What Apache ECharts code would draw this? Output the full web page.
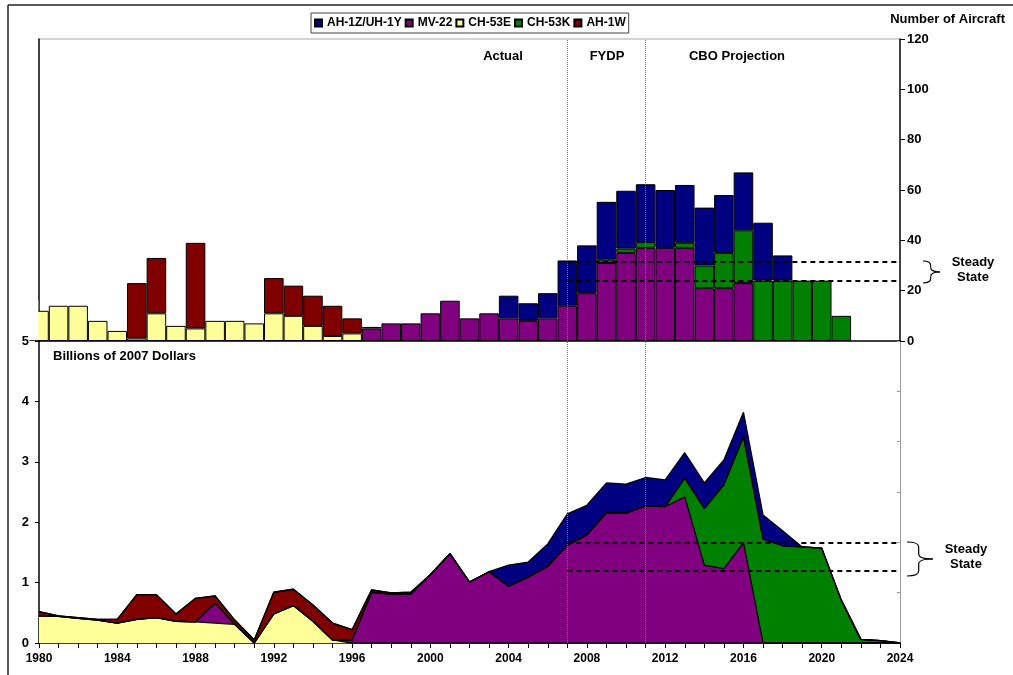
<!DOCTYPE html>
<html>
<head>
<meta charset="utf-8">
<script src="https://cdn.jsdelivr.net/npm/echarts@6/dist/echarts.min.js"></script>
<style>
  html, body { margin: 0; padding: 0; background: #fff; }
  #chart { width: 1013px; height: 675px; }
</style>
</head>
<body>
<div id="chart"></div>
<script>
// years on the shared x axis
var years = ['1980','1981','1982','1983','1984','1985','1986','1987','1988','1989',
  '1990','1991','1992','1993','1994','1995','1996','1997','1998','1999',
  '2000','2001','2002','2003','2004','2005','2006','2007','2008','2009',
  '2010','2011','2012','2013','2014','2015','2016','2017','2018','2019',
  '2020','2021','2022','2023','2024'];

// number of aircraft bought per year (top panel)
var ch53eBars = [12,14,14,8,4,1,11,6,5,8, 8,7,11,10,6,2,3,0,0,0, 0,0,0,0,0,0,0,0,0,0, 0,0,0,0,0,0,0,0,0,0, 0,0,0,0,0];
var mv22Bars  = [0,0,0,0,0,0,0,0,0,0, 0,0,0,0,0,0,0,5,7,7, 11,16,9,11,9,8,9,14,19,31, 35,37,37,37,21,21,23,0,0,0, 0,0,0,0,0];
var ch53kBars = [0,0,0,0,0,0,0,0,0,0, 0,0,0,0,0,0,0,0,0,0, 0,0,0,0,0,0,0,0,0,1.3, 1.7,2.3,0,2,9,14,21,24,24,24, 24,10,0,0,0];
var ah1wBars  = [0,0,0,0,0,22,22,0,34,0, 0,0,14,12,12,12,6,0.6,0,0, 0,0,0,0,0,0,0,0,0,0, 0,0,0,0,0,0,0,0,0,0, 0,0,0,0,0];
var ah1zBars  = [0,0,0,0,0,0,0,0,0,0, 0,0,0,0,0,0,0,0,0,0, 0,0,0,0,9,7,10,18,19,23, 23,23,23,23,23,23,23,23,10,0, 0,0,0,0,0];

// procurement cost, billions of 2007 dollars (bottom panel)
var ch53eCost = [0.45,0.44,0.41,0.38,0.33,0.39,0.42,0.36,0.35,0.33, 0.31,0,0.48,0.62,0.36,0.05,0,0,0,0, 0,0,0,0,0,0,0,0,0,0, 0,0,0,0,0,0,0,0,0,0, 0,0,0,0,0];
var mv22Cost  = [0,0,0,0,0,0,0,0,0,0.33, 0,0,0,0,0,0,0.05,0.84,0.81,0.81, 1.13,1.48,1.01,1.18,0.94,1.09,1.27,1.62,1.79,2.16, 2.15,2.27,2.26,2.42,1.29,1.23,1.66,0,0,0, 0,0,0,0,0];
var ch53kCost = [0,0,0,0,0,0,0,0,0,0, 0,0,0,0,0,0,0,0,0,0, 0,0,0,0,0,0,0,0,0,0, 0,0,0,0.31,0.94,1.39,1.76,1.72,1.61,1.59, 1.57,0.71,0.06,0.04,0];
var ah1wCost  = [0.07,0.01,0.01,0.01,0.06,0.41,0.38,0.12,0.39,0.12, 0.07,0.05,0.36,0.27,0.27,0.28,0.17,0.04,0.02,0.03, 0,0,0,0,0,0,0,0,0,0, 0,0,0,0,0,0,0,0,0,0, 0,0,0,0,0];
var ah1zCost  = [0,0,0,0,0,0,0,0,0,0, 0,0,0,0,0,0,0,0,0,0, 0,0,0,0,0.35,0.25,0.37,0.52,0.49,0.49, 0.48,0.47,0.44,0.42,0.42,0.41,0.40,0.40,0.25,0, 0,0,0,0,0];

// steady state bands and period markers
var steadyAircraft = [23.8, 31.4];
var steadyCost = [1.2, 1.66];
var periodStarts = ['2007', '2011'];

var names = ['AH-1Z/UH-1Y', 'MV-22', 'CH-53E', 'CH-53K', 'AH-1W'];
var colors = {
  'AH-1Z/UH-1Y': '#000080',
  'MV-22': '#800080',
  'CH-53E': '#ffff99',
  'CH-53K': '#008000',
  'AH-1W': '#800000'
};

var font = "'Liberation Sans', Arial, sans-serif";
var myChart = echarts.init(document.getElementById('chart'));

function nz(arr) {
  return arr.map(function (v) { return v === 0 ? '-' : v; });
}

function periodLines() {
  return {
    silent: true,
    symbol: 'none',
    label: { show: false },
    lineStyle: { color: '#777', type: 'dotted', width: 1 },
    data: periodStarts.map(function (y) { return { xAxis: y }; })
  };
}

function steadyLines(vals) {
  return {
    silent: true, symbol: 'none', label: { show: false }, z: 10,
    lineStyle: { color: '#000', type: [5, 4], width: 2 },
    data: vals.map(function (v) {
      return [{ coord: ['2007', v] }, { coord: ['2024', v] }];
    })
  };
}

// stacking order, bottom to top
var order = [
  ['CH-53E', ch53eBars, ch53eCost],
  ['MV-22', mv22Bars, mv22Cost],
  ['CH-53K', ch53kBars, ch53kCost],
  ['AH-1W', ah1wBars, ah1wCost],
  ['AH-1Z/UH-1Y', ah1zBars, ah1zCost]
];

var series = [];
order.forEach(function (s, i) {
  var bar = {
    name: s[0],
    type: 'bar',
    stack: 'aircraft',
    xAxisIndex: 0,
    yAxisIndex: 0,
    barCategoryGap: '0%',
    itemStyle: { color: colors[s[0]], borderColor: '#000', borderWidth: 1 },
    data: nz(s[1])
  };
  if (i === 0) bar.markLine = periodLines();
  series.push(bar);
});
// dashed steady-state lines over the bars
series.push({
  type: 'line', xAxisIndex: 0, yAxisIndex: 0, data: [], silent: true,
  markLine: steadyLines(steadyAircraft)
});
order.forEach(function (s, i) {
  var area = {
    name: s[0],
    type: 'line',
    stack: 'cost',
    xAxisIndex: 1,
    yAxisIndex: 2,
    symbol: 'none',
    lineStyle: { color: '#000', width: 1.3 },
    itemStyle: { color: colors[s[0]] },
    areaStyle: { color: colors[s[0]], opacity: 1 },
    data: s[2]
  };
  if (i === 0) area.markLine = periodLines();
  series.push(area);
});
series.push({
  type: 'line', xAxisIndex: 1, yAxisIndex: 2, data: [], silent: true,
  markLine: steadyLines(steadyCost)
});

// curly brace built from curves and lines
function brace(x, y0, y1, w) {
  var mid = (y0 + y1) / 2, xm = x + w * 0.45, r = Math.min(5, (y1 - y0) / 5);
  var st = { stroke: '#000', lineWidth: 1.2, fill: null };
  return [
    { type: 'bezierCurve', silent: true, style: st, shape: { x1: x, y1: y0, x2: xm, y2: y0 + r, cpx1: xm, cpy1: y0 } },
    { type: 'line', silent: true, style: st, shape: { x1: xm, y1: y0 + r, x2: xm, y2: mid - r } },
    { type: 'bezierCurve', silent: true, style: st, shape: { x1: xm, y1: mid - r, x2: x + w, y2: mid, cpx1: xm, cpy1: mid } },
    { type: 'bezierCurve', silent: true, style: st, shape: { x1: x + w, y1: mid, x2: xm, y2: mid + r, cpx1: xm, cpy1: mid } },
    { type: 'line', silent: true, style: st, shape: { x1: xm, y1: mid + r, x2: xm, y2: y1 - r } },
    { type: 'bezierCurve', silent: true, style: st, shape: { x1: xm, y1: y1 - r, x2: x, y2: y1, cpx1: xm, cpy1: y1 } }
  ];
}

function label(text, x, y, align) {
  return {
    type: 'text', x: x, y: y, silent: true,
    style: {
      text: text, fill: '#000', font: 'bold 13px ' + font,
      textAlign: align || 'center', textVerticalAlign: 'middle'
    }
  };
}

var option = {
  backgroundColor: '#fff',
  animation: false,
  textStyle: { fontFamily: font },
  legend: {
    data: names,
    left: 311,
    top: 13,
    padding: [4, 3, 4, 3],
    itemGap: 3,
    itemWidth: 7,
    itemHeight: 7,
    icon: 'rect',
    borderColor: '#444',
    borderWidth: 1,
    textStyle: { fontSize: 12, fontWeight: 'bold', color: '#000', fontFamily: font }
  },
  grid: [
    { left: 39, right: 113, top: 39, height: 302 },
    { left: 39, right: 113, top: 341, height: 302 }
  ],
  xAxis: [
    {
      type: 'category', gridIndex: 0, data: years, boundaryGap: false,
      axisLine: { lineStyle: { color: '#000', width: 1.5 } },
      axisTick: { show: false }, axisLabel: { show: false }, splitLine: { show: false }
    },
    {
      type: 'category', gridIndex: 1, data: years, boundaryGap: false,
      axisLine: { lineStyle: { color: '#000', width: 1.5 } },
      axisTick: { interval: 0, length: 5, lineStyle: { color: '#000' } },
      axisLabel: { interval: 3, margin: 10, fontSize: 12, fontWeight: 'bold', color: '#000' },
      splitLine: { show: false }
    }
  ],
  yAxis: [
    {
      type: 'value', gridIndex: 0, position: 'right', min: 0, max: 120, interval: 20,
      axisLine: { show: true, lineStyle: { color: '#000', width: 1.5 } },
      axisTick: { show: true, length: 5, lineStyle: { color: '#000' } },
      axisLabel: { margin: 7, fontSize: 13, fontWeight: 'bold', color: '#000' },
      splitLine: { show: false }
    },
    {
      type: 'value', gridIndex: 0, position: 'left', min: 0, max: 120,
      axisLine: { show: true, lineStyle: { color: '#000', width: 1.5 } },
      axisTick: { show: false }, axisLabel: { show: false }, splitLine: { show: false }
    },
    {
      type: 'value', gridIndex: 1, position: 'left', min: 0, max: 5, interval: 1,
      axisLine: { show: true, lineStyle: { color: '#000', width: 1.5 } },
      axisTick: { show: true, length: 4, lineStyle: { color: '#000' } },
      axisLabel: { margin: 10, fontSize: 13, fontWeight: 'bold', color: '#000' },
      splitLine: { show: false }
    },
    {
      type: 'value', gridIndex: 1, position: 'right', min: 0, max: 6, interval: 1,
      axisLine: { show: true, lineStyle: { color: '#999', width: 1 } },
      axisTick: { show: true, inside: true, length: 3, lineStyle: { color: '#999' } },
      axisLabel: { show: false }, splitLine: { show: false }
    }
  ],
  graphic: [
    // mask the half of the first bar that falls left of the plot
    { type: 'rect', silent: true, z: 100, shape: { x: 28.5, y: 300, width: 9.8, height: 40.2 }, style: { fill: '#fff' } },
    { type: 'line', silent: true, shape: { x1: 8, y1: 5, x2: 1013, y2: 5 }, style: { stroke: '#222', lineWidth: 1.5 } },
    { type: 'line', silent: true, shape: { x1: 8, y1: 5, x2: 8, y2: 675 }, style: { stroke: '#222', lineWidth: 1.5 } },
    { type: 'line', silent: true, shape: { x1: 39, y1: 39, x2: 900, y2: 39 }, style: { stroke: '#aaa', lineWidth: 1 } },
    label('Number of Aircraft', 1005, 19, 'right'),
    label('Actual', 503, 56),
    label('FYDP', 607, 56),
    label('CBO Projection', 737, 56),
    label('Billions of 2007 Dollars', 53, 356, 'left'),
    label('Steady', 973, 262),
    label('State', 973, 277),
    label('Steady', 966, 549),
    label('State', 966, 564)
  ].concat(brace(923, 261, 283, 17), brace(907, 542, 576, 26)),
  series: series
};

myChart.setOption(option);
</script>
</body>
</html>
